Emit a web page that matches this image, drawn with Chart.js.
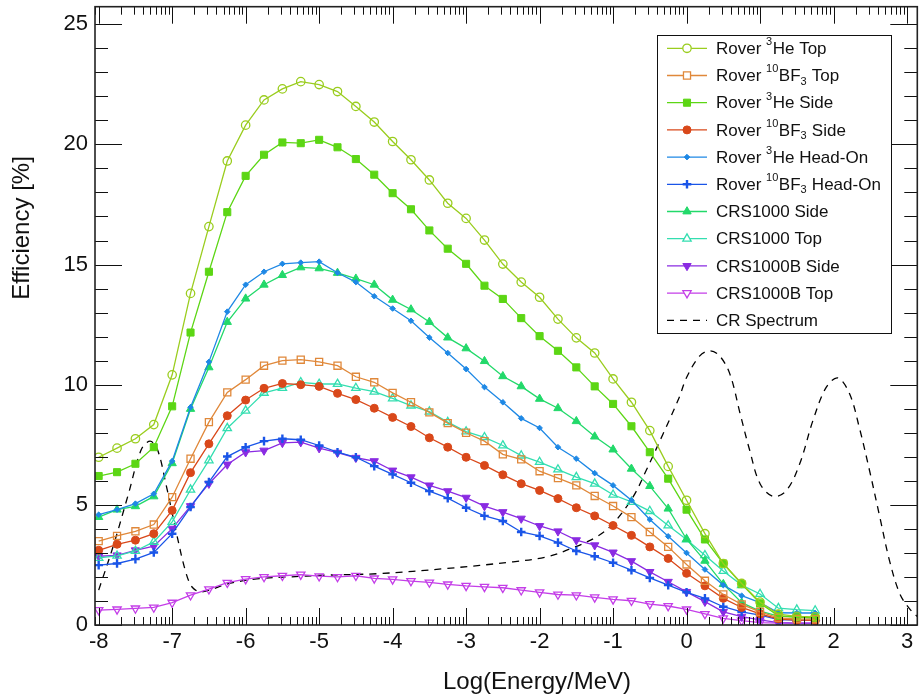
<!DOCTYPE html>
<html><head><meta charset="utf-8">
<script src="https://cdn.jsdelivr.net/npm/chart.js@4.4.1/dist/chart.umd.min.js"></script>
<style>html,body{margin:0;padding:0;background:#fff}#wrap{width:924px;height:700px;position:relative}</style>
</head><body><div id="wrap"><canvas id="c"></canvas></div>
<script>
// ---------------- data ----------------
const energy = [-8,-7.75,-7.5,-7.25,-7,-6.75,-6.5,-6.25,-6,-5.75,-5.5,-5.25,-5,-4.75,-4.5,-4.25,-4,-3.75,-3.5,-3.25,-3,-2.75,-2.5,-2.25,-2,-1.75,-1.5,-1.25,-1,-0.75,-0.5,-0.25,0,0.25,0.5,0.75,1,1.25,1.5,1.75];

const he3Top  = [6.98,7.36,7.75,8.34,10.41,13.80,16.58,19.31,20.80,21.85,22.31,22.61,22.49,22.20,21.58,20.93,20.12,19.36,18.52,17.55,16.92,16.02,15.02,14.27,13.64,12.73,11.95,11.32,10.24,9.27,8.09,6.60,5.19,3.80,2.56,1.73,0.95,0.45,0.36,0.34];
const bf3Top  = [3.49,3.71,3.90,4.18,5.32,6.92,8.44,9.68,10.21,10.79,11.00,11.04,10.95,10.79,10.33,10.10,9.66,9.27,8.85,8.40,8.00,7.65,7.10,6.89,6.40,6.11,5.81,5.37,4.95,4.49,3.87,3.25,2.52,1.84,1.27,0.86,0.55,0.30,0.25,0.24];
const he3Side = [6.20,6.36,6.71,7.40,9.10,12.17,14.70,17.18,18.69,19.57,20.08,20.05,20.19,19.88,19.39,18.74,17.97,17.30,16.42,15.66,15.03,14.12,13.57,12.77,12.02,11.41,10.72,9.93,9.20,8.27,7.19,6.09,4.80,3.56,2.56,1.70,0.90,0.38,0.32,0.30];
const bf3Side = [3.11,3.36,3.53,3.80,4.77,6.34,7.54,8.71,9.36,9.85,10.05,10.00,9.93,9.64,9.38,9.02,8.64,8.26,7.79,7.40,6.98,6.64,6.25,5.88,5.60,5.26,4.88,4.54,4.14,3.73,3.25,2.77,2.15,1.63,1.11,0.73,0.46,0.25,0.20,0.19];
const he3Head = [4.59,4.80,5.05,5.46,6.82,9.06,10.95,13.04,14.16,14.70,15.03,15.08,15.12,14.66,14.27,13.68,13.17,12.66,11.96,11.32,10.65,9.90,9.27,8.60,8.20,7.40,6.92,6.32,5.81,5.19,4.39,3.69,3.00,2.31,1.66,1.22,0.93,0.51,0.50,0.50];
const bf3Head = [2.49,2.56,2.74,3.02,3.80,4.91,5.95,7.01,7.40,7.65,7.75,7.71,7.47,7.19,6.98,6.61,6.27,5.92,5.57,5.28,4.88,4.54,4.33,3.87,3.71,3.43,3.08,2.86,2.59,2.28,1.96,1.66,1.36,1.11,0.76,0.55,0.41,0.22,0.20,0.20];
const crsSide = [4.49,4.80,4.94,5.35,6.73,8.99,10.72,12.61,13.58,14.16,14.56,14.88,14.84,14.65,14.41,14.16,13.53,13.13,12.61,11.96,11.51,10.98,10.35,9.93,9.41,9.02,8.48,7.84,7.30,6.50,5.78,4.84,3.57,2.67,1.70,0.93,0.58,0.37,0.35,0.28];
const crsTop  = [2.79,2.88,3.08,3.46,4.29,5.63,6.85,8.19,8.92,9.66,9.86,10.10,10.03,10.03,9.86,9.71,9.43,9.13,8.88,8.44,8.05,7.81,7.47,7.05,6.78,6.47,6.15,5.88,5.42,5.12,4.74,4.14,3.56,2.90,2.25,1.66,1.29,0.70,0.64,0.60];
const crsBSide= [2.86,2.90,3.11,3.28,4.01,4.95,5.88,6.68,7.19,7.26,7.58,7.61,7.36,7.17,6.96,6.82,6.43,6.15,5.81,5.57,5.30,4.95,4.70,4.43,4.12,3.90,3.53,3.32,3.02,2.66,2.21,1.80,1.38,0.97,0.55,0.35,0.21,0.10,0.08,0.08];
const crsBTop = [0.62,0.65,0.69,0.73,0.93,1.24,1.49,1.76,1.91,2.00,2.05,2.10,2.03,2.00,2.05,1.94,1.90,1.83,1.77,1.69,1.63,1.59,1.55,1.45,1.36,1.27,1.24,1.15,1.07,1.01,0.87,0.79,0.65,0.46,0.28,0.18,0.10,0.08,0.08,0.08];

const crX = [-8.0,-7.8,-7.6,-7.42,-7.3,-7.2,-7.08,-6.94,-6.81,-6.72,-6.6,-6.22,-5.85,-5.4,-4.95,-4.18,-3.27,-2.36,-1.91,-1.55,-1.23,-1.0,-0.73,-0.55,-0.32,-0.1,0.0,0.18,0.32,0.45,0.59,0.73,0.86,1.0,1.18,1.36,1.54,1.72,1.9,2.06,2.22,2.35,2.49,2.63,2.76,2.9,3.03,3.14];
const crY = [1.45,3.3,5.4,7.3,7.65,7.3,5.8,3.8,2.15,1.55,1.38,1.73,1.92,2.0,2.07,2.14,2.35,2.63,2.83,3.21,3.66,4.22,5.32,6.43,7.95,9.47,10.3,11.2,11.41,11.2,10.44,8.78,7.26,5.88,5.35,5.6,6.71,8.51,9.89,10.28,9.61,8.23,6.43,4.49,2.70,1.31,0.69,0.35];

const xTickValues = [-8,-7,-6,-5,-4,-3,-2,-1,0,1,2,3];
const yTickValues = [0,5,10,15,20,25];
const X_MIN = -8.05, X_MAX = 3.14, Y_MIN = 0, Y_MAX = 25.73;

const seriesLabels = ['Rover ³He Top','Rover ¹⁰BF₃ Top','Rover ³He Side','Rover ¹⁰BF₃ Side','Rover ³He Head-On','Rover ¹⁰BF₃ Head-On','CRS1000 Side','CRS1000 Top','CRS1000B Side','CRS1000B Top'];
const seriesValues = [he3Top,bf3Top,he3Side,bf3Side,he3Head,bf3Head,crsSide,crsTop,crsBSide,crsBTop];
const crLabel = 'CR Spectrum';

// ---------------- styles ----------------
const FONT = '"Liberation Sans", Arial, Helvetica, sans-serif';
const styles = [
  {color:'#9acd1e', ps:'circle',   rot:0,   r:4.2, open:true,  bw:1.3},
  {color:'#e0883a', ps:'rect',     rot:0,   r:5,   open:true,  bw:1.3},
  {color:'#5cd614', ps:'rect',     rot:0,   r:5,   open:false, bw:1},
  {color:'#d9481a', ps:'circle',   rot:0,   r:4,   open:false, bw:1},
  {color:'#1e88e5', ps:'rectRot',  rot:0,   r:2.8, open:false, bw:1},
  {color:'#1a55e8', ps:'cross',    rot:0,   r:4.3, open:false, bw:2.4},
  {color:'#22d96a', ps:'triangle', rot:0,   r:4.8, open:false, bw:1},
  {color:'#33deb0', ps:'triangle', rot:0,   r:4.8, open:true,  bw:1.3},
  {color:'#8a2be2', ps:'triangle', rot:180, r:4.8, open:false, bw:1},
  {color:'#c43ee8', ps:'triangle', rot:180, r:4.8, open:true,  bw:1.3}
];

const datasets = seriesValues.map((vals,i)=>{
  const s = styles[i];
  return {
    label: seriesLabels[i],
    data: vals.map((v,j)=>({x:energy[j], y:v})),
    borderColor: s.color, borderWidth: 1.3, showLine:true, tension:0,
    pointStyle: s.ps, pointRotation: s.rot, pointRadius: s.r,
    pointBorderColor: s.color, pointBackgroundColor: s.open ? 'rgba(0,0,0,0)' : s.color,
    pointBorderWidth: s.bw, pointHoverRadius: s.r, fill:false
  };
});
datasets.push({
  label: crLabel,
  data: crX.map((v,j)=>({x:v, y:crY[j]})),
  borderColor:'#000', borderWidth:1.3, borderDash:[7,6], showLine:true,
  tension:0.35, pointRadius:0, pointHoverRadius:0, fill:false
});

// ---------------- plugins ----------------
const rootFrame = {
  id:'rootFrame',
  afterDatasetsDraw(chart){
    const {ctx, chartArea:a, scales:{x,y}} = chart;
    ctx.save();
    ctx.strokeStyle = '#111'; ctx.lineWidth = 1;
    ctx.beginPath();
    const vx = (v,len)=>{ const px = Math.round(x.getPixelForValue(v))+0.5;
      ctx.moveTo(px,a.bottom); ctx.lineTo(px,a.bottom-len); ctx.moveTo(px,a.top); ctx.lineTo(px,a.top+len); };
    const hy = (v,len)=>{ const py = Math.round(y.getPixelForValue(v))+0.5;
      ctx.moveTo(a.left,py); ctx.lineTo(a.left+len,py); ctx.moveTo(a.right,py); ctx.lineTo(a.right-len,py); };
    xTickValues.forEach(v=>vx(v,17));
    for (let n=-9;n<=3;n++) for (let k=2;k<=9;k++){ const v=n+Math.log10(k); if (v>x.min && v<x.max) vx(v,8); }
    yTickValues.forEach(v=>hy(v,27));
    for (let v=Math.ceil(y.min); v<y.max; v++){ if (v%5!==0) hy(v,13); }
    ctx.stroke();
    ctx.lineWidth = 1.6; ctx.strokeStyle='#222';
    ctx.strokeRect(a.left, a.top, a.width, a.height);
    ctx.restore();
  }
};

const SUP = {'⁰':'0','¹':'1','²':'2','³':'3','⁴':'4','⁵':'5','⁶':'6','⁷':'7','⁸':'8','⁹':'9'};
const SUB = {'₀':'0','₁':'1','₂':'2','₃':'3','₄':'4','₅':'5','₆':'6','₇':'7','₈':'8','₉':'9'};
function richText(ctx, text, x, y, size){
  const segs=[]; for (const ch of text){ const t = SUP[ch]?'sup':(SUB[ch]?'sub':'n'); const c = SUP[ch]||SUB[ch]||ch;
    if (segs.length && segs[segs.length-1].t===t) segs[segs.length-1].s+=c; else segs.push({t,s:c}); }
  let cx = x;
  for (const sg of segs){
    const fs = sg.t==='n'? size : Math.round(size*0.65);
    ctx.font = fs+'px '+FONT;
    const dy = sg.t==='sup' ? -size*0.42 : (sg.t==='sub' ? size*0.3 : 0);
    ctx.fillText(sg.s, cx, y+dy);
    cx += ctx.measureText(sg.s).width + (sg.t==='n'?0:0.5);
  }
}

const rootLegend = {
  id:'rootLegend',
  afterDraw(chart){
    const ctx = chart.ctx;
    const L=657, T=35, R=891, B=333, y0=48.3, dy=27.2;
    ctx.save();
    ctx.fillStyle='#fff'; ctx.fillRect(L,T,R-L,B-T);
    ctx.strokeStyle='#111'; ctx.lineWidth=1; ctx.strokeRect(L+0.5,T+0.5,R-L,B-T);
    chart.data.datasets.forEach((ds,i)=>{
      const yy = y0 + i*dy;
      ctx.save();
      ctx.strokeStyle = ds.borderColor; ctx.lineWidth = ds.borderWidth;
      if (ds.borderDash) ctx.setLineDash(ds.borderDash);
      ctx.beginPath(); ctx.moveTo(667,yy); ctx.lineTo(707,yy); ctx.stroke();
      ctx.setLineDash([]);
      if (ds.pointRadius>0){
        ctx.strokeStyle = ds.pointBorderColor; ctx.fillStyle = ds.pointBackgroundColor; ctx.lineWidth = ds.pointBorderWidth;
        if (ds.pointBackgroundColor==='rgba(0,0,0,0)'){ ctx.fillStyle='#fff'; }
        Chart.helpers.drawPoint(ctx,{pointStyle:ds.pointStyle, rotation:ds.pointRotation, radius:ds.pointRadius, borderWidth:ds.pointBorderWidth},687,yy);
      }
      ctx.restore();
      ctx.fillStyle='#111'; ctx.textBaseline='middle'; ctx.textAlign='left';
      richText(ctx, ds.label, 716, yy+1, 17);
    });
    // axis titles
    ctx.fillStyle='#111'; ctx.textAlign='center'; ctx.textBaseline='middle';
    ctx.font = '24px '+FONT;
    ctx.fillText('Log(Energy/MeV)', 537, 682);
    ctx.save(); ctx.translate(22,228); ctx.rotate(-Math.PI/2);
    ctx.fillText('Efficiency [%]', 0, 0); ctx.restore();
    ctx.restore();
  }
};

const noPad = (s)=>{ s.paddingTop=0; s.paddingBottom=0; s.paddingLeft=0; s.paddingRight=0; };

new Chart(document.getElementById('c'), {
  type:'line',
  data:{datasets},
  options:{
    responsive:true, maintainAspectRatio:false, animation:false,
    layout:{padding:{top:5,right:6,left:0,bottom:0}},
    plugins:{legend:{display:false}, tooltip:{enabled:false}},
    scales:{
      x:{type:'linear', min:X_MIN, max:X_MAX, grid:{display:false, drawTicks:false, tickLength:0}, border:{display:false},
         afterBuildTicks:(s)=>{ s.ticks = xTickValues.map(v=>({value:v})); },
         afterFit:(s)=>{ s.height = 75; noPad(s); },
         ticks:{font:{family:FONT,size:22}, color:'#111', padding:4, maxRotation:0, autoSkip:false, callback:(v)=>String(v)}},
      y:{type:'linear', min:Y_MIN, max:Y_MAX, grid:{display:false, drawTicks:false, tickLength:0}, border:{display:false},
         afterBuildTicks:(s)=>{ s.ticks = yTickValues.map(v=>({value:v})); },
         afterFit:(s)=>{ s.width = 95; noPad(s); },
         ticks:{font:{family:FONT,size:22}, color:'#111', padding:7, autoSkip:false, callback:(v)=>String(v)}}
    }
  },
  plugins:[rootFrame, rootLegend]
});
</script></body></html>
